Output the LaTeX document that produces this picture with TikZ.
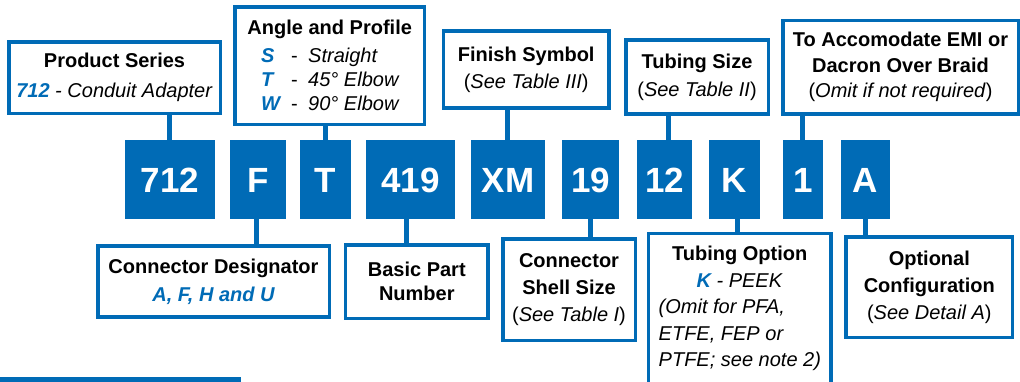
\documentclass[tikz,border=0pt]{standalone}
\usepackage{fontspec}
\setmainfont{Liberation Sans}
\definecolor{gblue}{RGB}{0,107,182}
\newcommand{\bluebi}[1]{\textcolor{gblue}{\bfseries\itshape #1}}
\begin{document}
\begin{tikzpicture}[x=1pt,y=-1pt,
  box/.style={draw=gblue, line width=3.5pt, fill=white, inner sep=0pt, align=center},
  code/.style={fill=gblue, inner sep=0pt, text=white, font=\fontsize{35}{35}\selectfont\bfseries, text height=25pt, text depth=0pt, minimum height=79pt},
  link/.style={draw=gblue, line width=5pt},
]
\useasboundingbox (0,0) rectangle (1020,381);
\clip (0,0) rectangle (1020,381);

% code boxes
\node[code, minimum width=90pt] (c712) at (170,179.5) {712};
\node[code, minimum width=56pt] (cF) at (258,179.5) {F};
\node[code, minimum width=51pt] (cT) at (325.5,179.5) {T};
\node[code, minimum width=89pt] (c419) at (410.5,179.5) {419};
\node[code, minimum width=74pt] (cXM) at (508,179.5) {XM};
\node[code, minimum width=57pt] (c19) at (590.5,179.5) {19};
\node[code, minimum width=55pt] (c12) at (664.5,179.5) {12};
\node[code, minimum width=51pt] (cK) at (734.5,179.5) {K};
\node[code, minimum width=40pt] (c1) at (803,179.5) {1};
\node[code, minimum width=49pt] (cA) at (865.5,179.5) {A};

% top boxes
\node[box, minimum width=211.5pt, minimum height=71.5pt, font=\fontsize{20}{30}\selectfont] (ps) at (114.5,77.5)
  {\textbf{Product Series}\\ \bluebi{712} \textit{- Conduit Adapter}};
\node[box, minimum width=189.5pt, minimum height=117.5pt, font=\fontsize{20}{24}\selectfont] (ap) at (329.7,65.5)
  {\textbf{Angle and Profile}\\[4pt]
   \makebox[137pt][l]{\makebox[30pt][l]{\bluebi{S}}\makebox[17pt][l]{-}\textit{Straight}}\\
   \makebox[137pt][l]{\makebox[30pt][l]{\bluebi{T}}\makebox[17pt][l]{-}\textit{45° Elbow}}\\
   \makebox[137pt][l]{\makebox[30pt][l]{\bluebi{W}}\makebox[17pt][l]{-}\textit{90° Elbow}}};
\node[box, minimum width=165.5pt, minimum height=77pt, font=\fontsize{20}{27}\selectfont] (fs) at (526.2,69.7)
  {\textbf{Finish Symbol}\\ (\textit{See Table III})};
\node[box, minimum width=142.5pt, minimum height=74pt, font=\fontsize{20}{28}\selectfont] (ts) at (697,77)
  {\textbf{Tubing Size}\\ (\textit{See Table II})};
\node[box, minimum width=235.5pt, minimum height=93.5pt, font=\fontsize{20}{25.6}\selectfont] (emi) at (900.5,67)
  {\textbf{To Accomodate EMI or}\\ \textbf{Dacron Over Braid}\\ (\textit{Omit if not required})};

% bottom boxes
\node[box, minimum width=231.5pt, minimum height=71pt, font=\fontsize{20}{28}\selectfont] (cd) at (213.5,281.7)
  {\textbf{Connector Designator}\\ \bluebi{A, F, H and U}};
\node[box, minimum width=142.8pt, minimum height=73.2pt, font=\fontsize{20}{24}\selectfont] (bp) at (416.8,281.7)
  {\textbf{Basic Part}\\ \textbf{Number}};
\node[box, minimum width=132.5pt, minimum height=101.5pt, font=\fontsize{20}{27}\selectfont] (ss) at (569,289.8)
  {\textbf{Connector}\\ \textbf{Shell Size}\\ (\textit{See Table I})};
\node[box, minimum width=182.5pt, minimum height=200pt] (to) at (739.7,333.4) {};
\node[anchor=north, inner sep=0pt, align=center, font=\fontsize{20}{26.4}\selectfont] (totext) at (739.7,246.3)
  {\textbf{Tubing Option}\\ \bluebi{K} \textit{- PEEK}\\
   \makebox[162pt][l]{\textit{(Omit for PFA,}}\\
   \makebox[162pt][l]{\textit{ETFE, FEP or}}\\
   \makebox[162pt][l]{\textit{PTFE; see note 2)}}};
\node[box, minimum width=166.5pt, minimum height=100.5pt, font=\fontsize{20}{27}\selectfont] (oc) at (929.3,287)
  {\textbf{Optional}\\ \textbf{Configuration}\\ (\textit{See Detail A})};

% connector x positions
\coordinate (k1) at (169.5,0);
\coordinate (k2) at (256,0);
\coordinate (k3) at (325,0);
\coordinate (k4) at (406,0);
\coordinate (k5) at (507.5,0);
\coordinate (k6) at (590,0);
\coordinate (k7) at (668,0);
\coordinate (k8) at (737,0);
\coordinate (k9) at (802,0);
\coordinate (k10) at (865,0);

\draw[link] (ps.south -| k1) -- (c712.north -| k1);
\draw[link] (ap.south -| k3) -- (cT.north -| k3);
\draw[link] (fs.south -| k5) -- (cXM.north -| k5);
\draw[link] (ts.south -| k7) -- (c12.north -| k7);
\draw[link] (emi.south -| k9) -- (c1.north -| k9);

\draw[link] (cF.south -| k2) -- (cd.north -| k2);
\draw[link] (c419.south -| k4) -- (bp.north -| k4);
\draw[link] (c19.south -| k6) -- (ss.north -| k6);
\draw[link] (cK.south -| k8) -- (to.north -| k8);
\draw[link] (cA.south -| k10) -- (oc.north -| k10);

% bottom-left bar
\fill[gblue] (0,376.5) rectangle (241,386);
\end{tikzpicture}
\end{document}
